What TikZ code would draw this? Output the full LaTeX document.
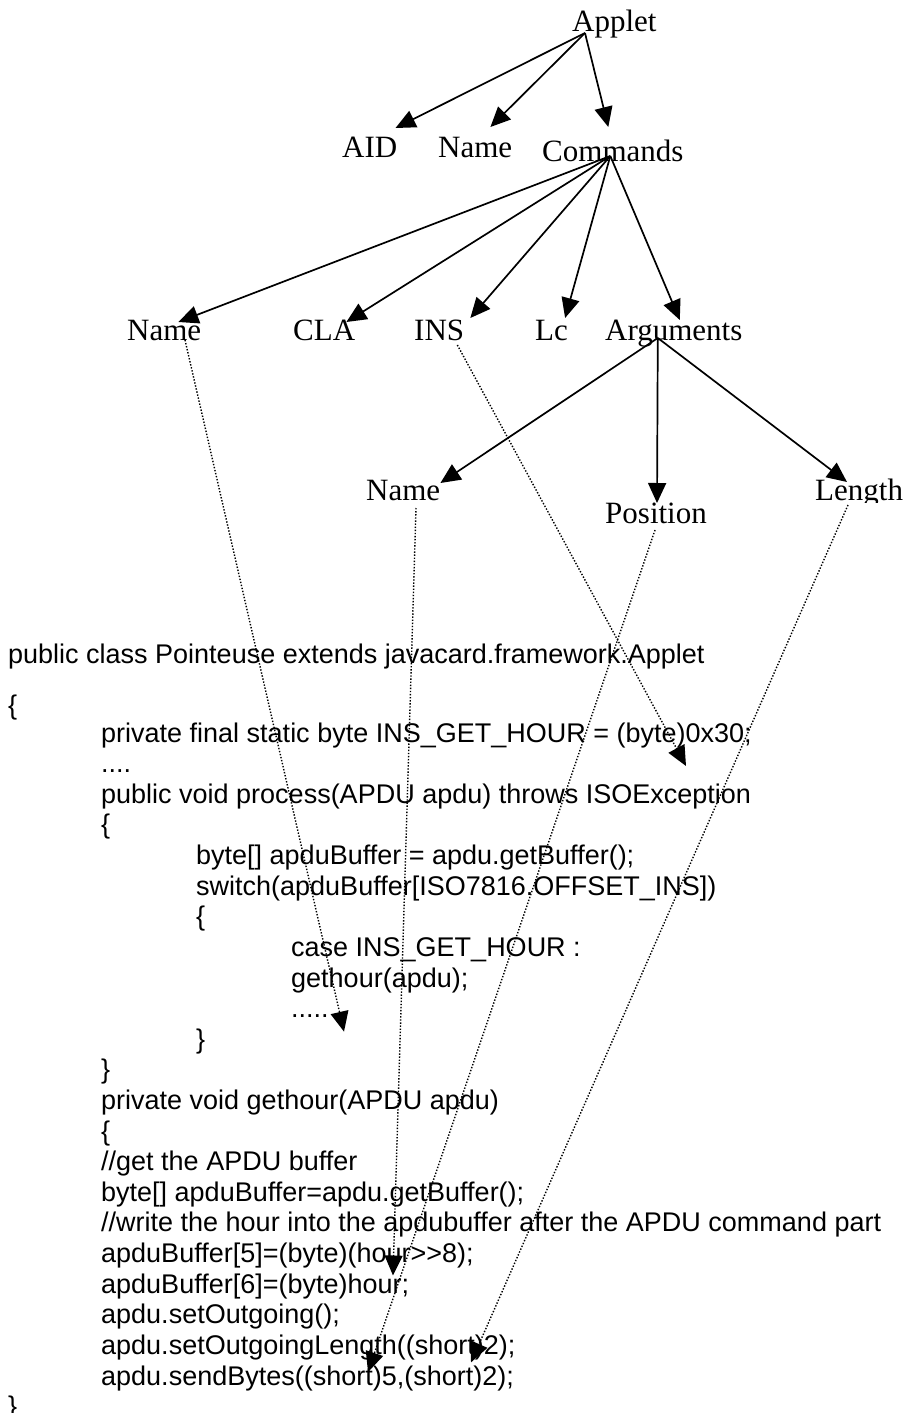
\documentclass[tikz,border=0pt]{standalone}
\usepackage{fontspec}
\setmainfont{Liberation Serif}
\setsansfont{Liberation Sans}
\usetikzlibrary{calc,arrows.meta}

\begin{document}
\begin{tikzpicture}[
  x=1pt,
  y=1pt
]

  \path[use as bounding box] (0,0) rectangle (907,-1413);

  \tikzstyle{treenode}=[inner sep=0pt,anchor=base west,font=\fontsize{31}{31}\selectfont]
  \tikzstyle{codeline}=[inner sep=0pt,anchor=base west,font=\sffamily\fontsize{27}{30}\selectfont]
  \tikzstyle{pointer}=[draw,line width=1.7pt,-{Triangle[length=20pt,width=18pt]}]
  \tikzstyle{refptr}=[draw,line width=1.4pt,dash pattern=on 1.4pt off 1.7pt,-{Triangle[length=20pt,width=18pt]}]

  % tree
  \node[treenode] (applet) at (572,-32) {Applet};
  \node[treenode] (aid) at (342,-157) {AID};
  \node[treenode] (name) at (438,-157) {Name};
  \node[treenode] (cmds) at (542,-161) {Commands};

  \node[treenode] (cname) at (127,-340) {Name};
  \node[treenode] (cla) at (293,-340) {CLA};
  \node[treenode] (ins) at (414,-340) {INS};
  \node[treenode] (lc) at (535,-340) {Lc};
  \node[treenode] (args) at (605,-340) {Arguments};

  \node[treenode] (aname) at (366,-500) {Name};
  \node[treenode] (pos) at (605,-523) {Position};
  \begin{scope}
    \clip (800,-460) rectangle (907,-502);
    \node[treenode] (len) at (815,-500) {Length};
  \end{scope}

  % code
  \node[codeline] (pub) at (8,-663) {public class Pointeuse extends javacard.framework.Applet};
  \node[codeline] (ob0) at (8,-714) {\{};
  \node[codeline] (priv) at (101,-742) {private final static byte INS\_GET\_HOUR = (byte)0x30;};
  \node[codeline] (dots1) at (101,-772.6) {....};
  \node[codeline] (proc) at (101,-803.2) {public void process(APDU apdu) throws ISOException};
  \node[codeline] (ob1) at (101,-833.9) {\{};
  \node[codeline] (buf1) at (196,-864.5) {byte[] apduBuffer = apdu.getBuffer();};
  \node[codeline] (sw) at (196,-895.1) {switch(apduBuffer[ISO7816.OFFSET\_INS])};
  \node[codeline] (ob2) at (196,-925.7) {\{};
  \node[codeline] (case) at (291,-956.3) {case INS\_GET\_HOUR :};
  \node[codeline] (call) at (291,-987) {gethour(apdu);};
  \node[codeline] (dots2) at (291,-1017.6) {.....};
  \node[codeline] (cb2) at (196,-1048.2) {\}};
  \node[codeline] (cb1) at (101,-1078.8) {\}};
  \node[codeline] (geth) at (101,-1109.4) {private void gethour(APDU apdu)};
  \node[codeline] (ob3) at (101,-1140.1) {\{};
  \node[codeline] (cm1) at (101,-1170.7) {//get the APDU buffer};
  \node[codeline] (buf2) at (101,-1201.3) {byte[] apduBuffer=apdu.getBuffer();};
  \node[codeline] (cm2) at (101,-1231.9) {//write the hour into the apdubuffer after the APDU command part};
  \node[codeline] (b5) at (101,-1262.5) {apduBuffer[5]=(byte)(hour>{}>8);};
  \node[codeline] (b6) at (101,-1293.2) {apduBuffer[6]=(byte)hour;};
  \node[codeline] (out) at (101,-1323.8) {apdu.setOutgoing();};
  \node[codeline] (outlen) at (101,-1354.4) {apdu.setOutgoingLength((short)2);};
  \node[codeline] (send) at (101,-1385) {apdu.sendBytes((short)5,(short)2);};
  \node[codeline] (cb0) at (8,-1415.6) {\}};

  % pointers
  \coordinate (appletout) at ($(applet.base west)+(13,-1)$);
  \coordinate (cmdsout) at ($(cmds.base)+(-2.5,5)$);
  \coordinate (argsout) at ($(args.base)+(-16,2)$);

  \draw[pointer] (appletout) -- ($(aid.base east)+(-2,29)$);
  \draw[pointer] (appletout) -- ($(name.base east)+(-22,30)$);
  \draw[pointer] (appletout) -- ($(cmds.base)+(-4.5,34)$);

  \draw[pointer] (cmdsout) -- ($(cname.base east)+(-23,18)$);
  \draw[pointer] (cmdsout) -- ($(cla.base east)+(-9,18)$);
  \draw[pointer] (cmdsout) -- ($(ins.base east)+(6,22)$);
  \draw[pointer] (cmdsout) -- ($(lc.base east)+(-3,22)$);
  \draw[pointer] (cmdsout) -- ($(args.base)+(6,20)$);

  \draw[pointer] (argsout) -- ($(aname.base east)+(0,17)$);
  \draw[pointer] (argsout) -- ($(pos.base)+(1,20)$);
  \draw[pointer] (argsout) -- ($(len.base west)+(32,18)$);

  % references into the code
  \draw[refptr] ($(cname.base west)+(58,0)$) -- ($(dots2.base west)+(53,-14)$);
  \draw[refptr] ($(ins.base east)+(-7,-5)$) -- ($(priv.base west)+(585,-24)$);
  \draw[refptr] ($(aname.base west)+(50,-8)$) -- ($(b5.base west)+(292,-13)$);
  \draw[refptr] ($(pos.base)+(-1,-7)$) -- ($(send.base west)+(267,13)$);
  \draw[refptr] ($(len.base west)+(33,-5)$) -- ($(outlen.base west)+(370,-8)$);

\end{tikzpicture}
\end{document}
